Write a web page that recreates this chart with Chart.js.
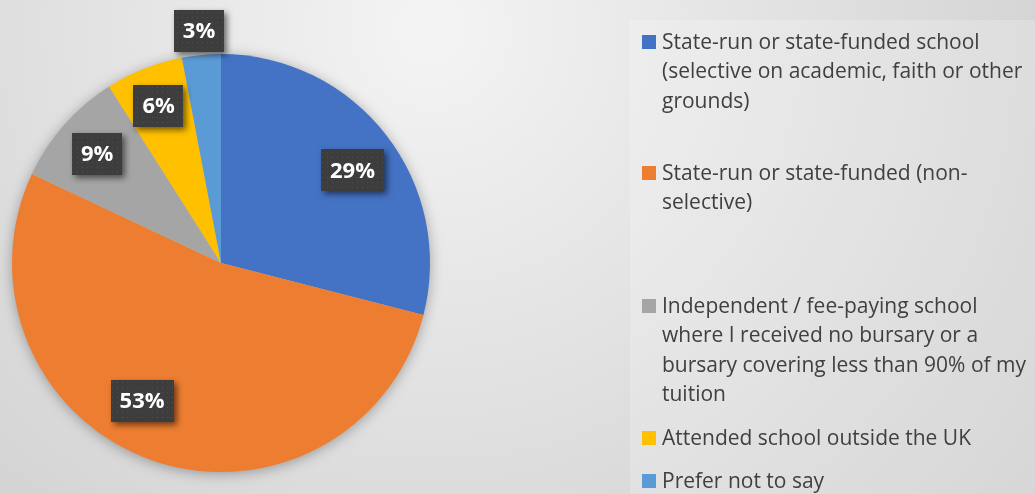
<!DOCTYPE html>
<html>
<head>
<meta charset="utf-8">
<script src="https://cdn.jsdelivr.net/npm/chart.js@4.4.1/dist/chart.umd.min.js"></script>
<style>
  html, body { margin: 0; padding: 0; background: #e4e4e4; }
  #wrap { width: 1035px; height: 494px; position: relative; }
</style>
</head>
<body>
<div id="wrap"><canvas id="pie" width="1035" height="494"></canvas></div>
<script>
// --- data ---
const categories = [
    ["State-run or state-funded school", "(selective on academic, faith or other", "grounds)"],
    ["State-run or state-funded (non-", "selective)"],
    ["Independent / fee-paying school", "where I received no bursary or a", "bursary covering less than 90% of my", "tuition"],
    ["Attended school outside the UK"],
    ["Prefer not to say"],
];
const shares = [29, 53, 9, 6, 3];
const sliceColors = ["#4472C4", "#ED7D31", "#A5A5A5", "#FFC000", "#5B9BD5"];

// label placement (fraction of radius, angle nudge in degrees)
const labelDist = [0.77, 0.76, 0.79, 0.81, 1.115];
const labelNudge = [2.6, 10, 0, 0, 0];
// legend entry baselines
const legendBase = [49, 180, 313, 445, 488];
const legendLine = 29.3;

const FONT = "'Open Sans', 'Noto Sans', sans-serif";

// small dotted fill used by the label boxes
function makeDots(ctx) {
    const c = document.createElement("canvas");
    c.width = 5; c.height = 5;
    const g = c.getContext("2d");
    g.fillStyle = "#3d3d3d";
    g.fillRect(0, 0, 5, 5);
    g.fillStyle = "#4f4f4f";
    g.fillRect(2, 2, 1, 1);
    return ctx.createPattern(c, "repeat");
}

const backdrop = {
    id: "backdrop",
    beforeDraw(chart) {
        const ctx = chart.ctx;
        const w = chart.width, h = chart.height;
        ctx.save();
        const grd = ctx.createRadialGradient(430, 30, 20, 430, 30, 760);
        grd.addColorStop(0, "#f3f3f3");
        grd.addColorStop(1, "#cdcdcd");
        ctx.fillStyle = grd;
        ctx.fillRect(0, 0, w, h);
        // lighter legend panel
        ctx.fillStyle = "rgba(255,255,255,0.2)";
        ctx.fillRect(630, 20, w - 630, h - 20);
        ctx.restore();
    },
    beforeDatasetsDraw(chart) {
        // soft shadow under the whole pie
        const arc = chart.getDatasetMeta(0).data[0];
        if (!arc) return;
        const ctx = chart.ctx;
        ctx.save();
        ctx.shadowColor = "rgba(0,0,0,0.35)";
        ctx.shadowBlur = 14;
        ctx.shadowOffsetX = 0;
        ctx.shadowOffsetY = 2;
        ctx.fillStyle = "#bdbdbd";
        ctx.beginPath();
        ctx.arc(arc.x, arc.y, arc.outerRadius - 1, 0, Math.PI * 2);
        ctx.fill();
        ctx.restore();
    },
    afterDraw(chart) {
        const ctx = chart.ctx;
        const meta = chart.getDatasetMeta(0);
        const dots = makeDots(ctx);

        // percentage boxes
        ctx.save();
        ctx.font = "bold 22px " + FONT;
        ctx.textAlign = "center";
        ctx.textBaseline = "middle";
        meta.data.forEach((arc, i) => {
            const mid = (arc.startAngle + arc.endAngle) / 2 + labelNudge[i] * Math.PI / 180;
            const r = arc.outerRadius * labelDist[i];
            const x = arc.x + Math.cos(mid) * r;
            const y = arc.y + Math.sin(mid) * r;
            const txt = shares[i] + "%";
            const bw = ctx.measureText(txt).width + 18;
            const bh = 42;
            ctx.save();
            ctx.shadowColor = "rgba(0,0,0,0.55)";
            ctx.shadowBlur = 6;
            ctx.shadowOffsetX = 3;
            ctx.shadowOffsetY = 3;
            ctx.fillStyle = dots;
            ctx.fillRect(Math.round(x - bw / 2), Math.round(y - bh / 2), Math.round(bw), bh);
            ctx.restore();
            ctx.fillStyle = "#ffffff";
            ctx.fillText(txt, x, y + 1);
        });
        ctx.restore();

        // legend
        ctx.save();
        ctx.font = "21px " + FONT;
        ctx.textAlign = "left";
        ctx.textBaseline = "alphabetic";
        categories.forEach((lines, i) => {
            const b = legendBase[i];
            ctx.fillStyle = sliceColors[i];
            ctx.fillRect(642, b - 14, 14, 14);
            ctx.fillStyle = "#404040";
            lines.forEach((ln, j) => {
                ctx.fillText(ln, 662, b + j * legendLine);
            });
        });
        ctx.restore();
    }
};

new Chart(document.getElementById("pie"), {
    type: "pie",
    data: {
        labels: categories.map(l => l.join(" ")),
        datasets: [
            {
                data: shares,
                backgroundColor: sliceColors,
                borderWidth: 0,
            },
        ],
    },
    options: {
        responsive: false,
        animation: false,
        layout: {
            padding: { left: 12, top: 54, right: 605, bottom: 22 },
        },
        plugins: {
            legend: { display: false },
            tooltip: { enabled: false },
        },
    },
    plugins: [backdrop],
});
</script>
</body>
</html>
